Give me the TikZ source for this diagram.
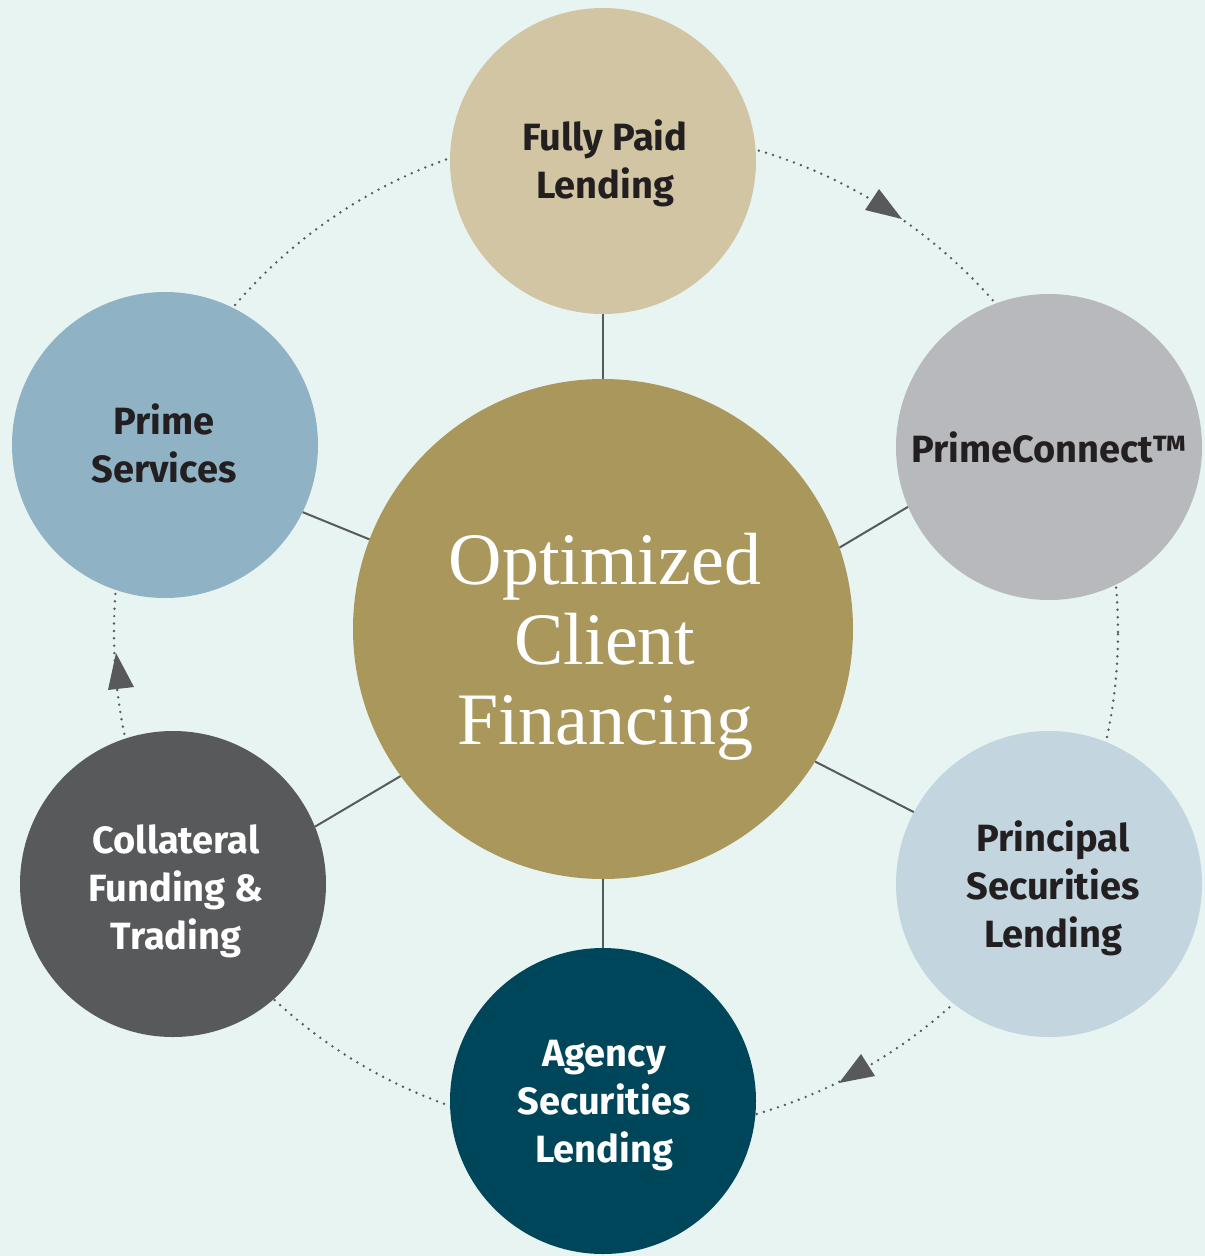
\documentclass[tikz,border=0pt]{standalone}
\usepackage{fontspec}
\newfontfamily\labfont{Fira Sans}
\newfontfamily\titlefont{Liberation Serif}
\definecolor{bg}{HTML}{E8F4F1}
\definecolor{cfully}{HTML}{D2C5A3}
\definecolor{cprimec}{HTML}{B8B9BC}
\definecolor{cprincipal}{HTML}{C3D5DF}
\definecolor{cagency}{HTML}{00465B}
\definecolor{ccoll}{HTML}{58595B}
\definecolor{cprime}{HTML}{8FB2C4}
\definecolor{ccenter}{HTML}{AA975B}
\definecolor{textdark}{HTML}{231F20}
\definecolor{linegray}{HTML}{58595B}
\begin{document}
\begin{tikzpicture}[x=1pt,y=-1pt,
  bubble/.style={circle, minimum size=306pt, inner sep=0pt, draw=none},
  lab/.style={align=center, font=\labfont\bfseries\fontsize{38}{48}\selectfont, text=textdark, inner sep=0pt},
  link/.style={draw=linegray, line width=2pt},
  ring/.style={draw=linegray, line width=2.7pt, line cap=round, dash pattern=on 0pt off 7.4pt},
  tipfill/.style={fill=linegray}
]
\useasboundingbox (0,0) rectangle (1205,1256);
\fill[bg] (0,0) rectangle (1205,1256);
\draw[ring] (616,632) circle[radius=502pt];

\node[bubble, fill=cfully] (fp) at (603,161) {};
\node[bubble, fill=cprimec] (pc) at (1049,447) {};
\node[bubble, fill=cprincipal] (ps) at (1049,884) {};
\node[bubble, fill=cagency] (ag) at (603,1101) {};
\node[bubble, fill=ccoll] (cf) at (173,884) {};
\node[bubble, fill=cprime] (pr) at (165,445) {};
\node[circle, minimum size=500pt, inner sep=0pt, fill=ccenter] (oc) at (603,629) {};

\draw[link] (oc.90) -- (fp.270);
\draw[link] (oc.19.5) -- (pc.203.7);
\draw[link] (oc.-32.7) -- (ps.152);
\draw[link] (oc.270) -- (ag.90);
\draw[link] (oc.216.9) -- (cf.22.6);
\draw[link] (oc.159.5) -- (pr.334.8);

\node[lab] (fpt) at (605,163) {Fully Paid\\Lending};
\node[lab] (prt) at (164,443) {Prime\\Services};
\node[lab] (pct) at (1049,447) {PrimeConnect™};
\node[lab] (pst) at (1053,888) {Principal\\Securities\\Lending};
\node[lab, text=white] (agt) at (604,1106) {Agency\\Securities\\Lending};
\node[lab, text=white] (cft) at (176,891) {Collateral\\Funding \&\\Trading};
\node[align=center, font=\titlefont\fontsize{74}{80}\selectfont, text=white, inner sep=0pt] (oct) at (605,647) {Optimized\\Client\\Financing};

\fill[tipfill] (902,219) -- (865,210) -- (879,189) -- cycle;
\fill[tipfill] (839,1083) -- (861,1054) -- (875,1076) -- cycle;
\fill[tipfill] (116,653) -- (108,690) -- (134,687) -- cycle;
\end{tikzpicture}
\end{document}
